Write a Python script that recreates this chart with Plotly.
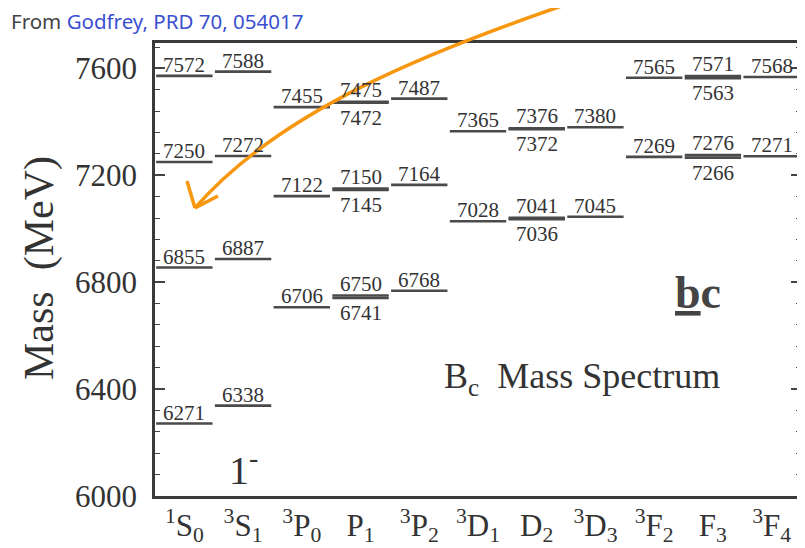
import plotly.graph_objects as go

# ---- data ----
states = ["1S0", "3S1", "3P0", "P1", "3P2", "3D1", "D2", "3D3", "3F2", "F3", "3F4"]
tick_text = ["<sup>1</sup>S<sub>0</sub>", "<sup>3</sup>S<sub>1</sub>", "<sup>3</sup>P<sub>0</sub>",
             "P<sub>1</sub>", "<sup>3</sup>P<sub>2</sub>", "<sup>3</sup>D<sub>1</sub>",
             "D<sub>2</sub>", "<sup>3</sup>D<sub>3</sub>", "<sup>3</sup>F<sub>2</sub>",
             "F<sub>3</sub>", "<sup>3</sup>F<sub>4</sub>"]
# single levels (label above)
single_levels = {
    "1S0": [6271, 6855, 7250, 7572],
    "3S1": [6338, 6887, 7272, 7588],
    "3P0": [6706, 7122, 7455],
    "3P2": [6768, 7164, 7487],
    "3D1": [7028, 7365],
    "3D3": [7045, 7380],
    "3F2": [7269, 7565],
    "3F4": [7271, 7568],
}
# mixed pairs (upper labelled above, lower labelled below)
pair_levels = {
    "P1": [(6741, 6750), (7145, 7150), (7472, 7475)],
    "D2": [(7036, 7041), (7372, 7376)],
    "F3": [(7266, 7276), (7563, 7571)],
}
y_ticks = [6000, 6400, 6800, 7200, 7600]

SERIF = "Liberation Serif, Times New Roman, serif"
LINE_C = "#4a4a4a"
TXT_C = "#333333"
HALF = 0.48
LBL = 21

fig = go.Figure()
xs, ys = [], []
annotations = []
for i, s in enumerate(states):
    for m in single_levels.get(s, []):
        xs += [i - HALF, i + HALF, None]
        ys += [m, m, None]
        annotations.append(dict(x=i, y=m, text=str(m), showarrow=False, xref="x", yref="y",
                                xanchor="center", yanchor="bottom", yshift=-3,
                                font=dict(family=SERIF, size=LBL, color=TXT_C)))
    for lo, hi in pair_levels.get(s, []):
        for m in (lo, hi):
            xs += [i - HALF, i + HALF, None]
            ys += [m, m, None]
        annotations.append(dict(x=i, y=hi, text=str(hi), showarrow=False, xref="x", yref="y",
                                xanchor="center", yanchor="bottom", yshift=-2,
                                font=dict(family=SERIF, size=LBL, color=TXT_C)))
        annotations.append(dict(x=i, y=lo, text=str(lo), showarrow=False, xref="x", yref="y",
                                xanchor="center", yanchor="top", yshift=-1,
                                font=dict(family=SERIF, size=LBL, color=TXT_C)))

fig.add_trace(go.Scatter(x=xs, y=ys, mode="lines", line=dict(color=LINE_C, width=2.6),
                         hoverinfo="skip", showlegend=False))

# page has an 8px body margin: figure is placed at (8, 8)
W, H = 797, 540
L, R, T, B = 147, 4, 35, 52
pw, ph = W - L - R, H - T - B

# convert target page pixels to paper fractions
def px(x):
    return (x - 8 - L) / pw

def py(y):
    return (H - B - (y - 8)) / ph

# text decorations
annotations += [
    dict(x=px(9), y=py(21), xref="paper", yref="paper", xanchor="left", yanchor="middle",
         showarrow=False,
         text="<span style='color:#444'>From</span> <span style='color:#3a4fd0'>Godfrey, PRD 70, 054017</span>",
         font=dict(family="Noto Sans, sans-serif", size=20.5)),
    dict(x=px(39), y=py(268), xref="paper", yref="paper", textangle=-90, showarrow=False,
         xanchor="center", yanchor="middle",
         text="Mass  (MeV)", font=dict(family=SERIF, size=42, color=TXT_C)),
    dict(x=px(582), y=py(378), xref="paper", yref="paper", showarrow=False,
         xanchor="center", yanchor="middle",
         text="B<sub>c</sub>  Mass Spectrum", font=dict(family=SERIF, size=36, color=TXT_C)),
    dict(x=px(698), y=py(292), xref="paper", yref="paper", showarrow=False,
         xanchor="center", yanchor="middle",
         text="<b><u>b</u>c</b>", font=dict(family=SERIF, size=46, color="#444")),
    dict(x=1, y=6105, xref="x", yref="y", showarrow=False,
         xanchor="center", yanchor="middle",
         text="1<sup>-</sup>", font=dict(family=SERIF, size=40, color=TXT_C)),
]

# hand-drawn orange arrow (decoration)
def P(x, y):
    return f"{px(x):.4f},{py(y):.4f}"

arrow_path = f"M {P(588,-3)} C {P(430,50)} {P(280,110)} {P(195,208)}"
head1 = f"M {P(195,208)} L {P(187,181)}"
head2 = f"M {P(195,208)} L {P(218,196)}"
shapes = [dict(type="path", path=p, xref="paper", yref="paper",
               line=dict(color="#f7960f", width=3.5)) for p in (arrow_path, head1, head2)]

fig.update_layout(
    width=W, height=H,
    margin=dict(l=L, r=R, t=T, b=B, autoexpand=False),
    paper_bgcolor="white", plot_bgcolor="white",
    annotations=annotations, shapes=shapes,
    xaxis=dict(range=[-0.5, 10.5], tickmode="array", tickvals=list(range(len(states))),
               ticktext=tick_text, ticks="", showgrid=False, zeroline=False, automargin=False,
               showline=True, mirror=True, linecolor="#3a3a3a", linewidth=2.5,
               tickfont=dict(family=SERIF, size=31, color=TXT_C)),
    yaxis=dict(range=[6000, 7695], tickmode="array", tickvals=y_ticks, automargin=False,
               ticks="inside", ticklen=10, tickwidth=1.5, tickcolor="#444",
               ticklabelstandoff=9,
               minor=dict(dtick=80, ticks="inside", ticklen=5, tickwidth=1.2, tickcolor="#444",
                          tick0=6000),
               showgrid=False, zeroline=False, showline=True, mirror="ticks",
               linecolor="#3a3a3a", linewidth=2.5,
               tickfont=dict(family=SERIF, size=31, color=TXT_C)),
)

fig.write_html("out.html")
